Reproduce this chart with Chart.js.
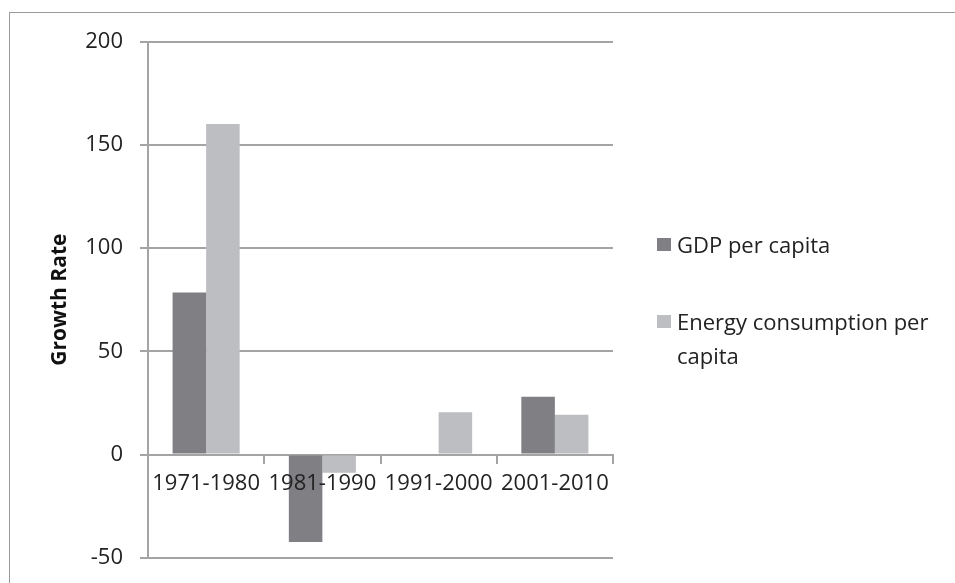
<!DOCTYPE html>
<html>
<head>
<meta charset="utf-8">
<script src="https://cdn.jsdelivr.net/npm/chart.js@4"></script>
<style>
  body { margin: 0; background: #fff; overflow: hidden; width: 955px; height: 583px; position: relative; }
  #frame { position: absolute; left: 9px; top: 12px; width: 1000px; height: 700px; border: 1.5px solid #9b9b9b; }
  #chartGrowth { position: absolute; left: 0; top: 0; }
  #legend { position: absolute; left: 657px; top: 0; font-family: "Open Sans", sans-serif; font-size: 22px; color: #222; }
  .item { position: absolute; left: 0; width: 290px; display: flex; align-items: flex-start; line-height: 34px; }
  .box { width: 14px; height: 13px; flex: none; margin-top: 11px; margin-right: 6px; }
</style>
</head>
<body>
<div id="frame"></div>
<!-- canvas a bit taller than the window: the plot runs almost to the bottom edge -->
<canvas id="chartGrowth" width="955" height="588"></canvas>
<div id="legend"></div>
<script>
const decades = ["1971-1980", "1981-1990", "1991-2000", "2001-2010"];
const gdpPerCapita = [78.5, -42.4, 0, 28];
const energyPerCapita = [160, -8.8, 20.5, 19.3];
const yTicks = [-50, 0, 50, 100, 150, 200];

const seriesNames = ["GDP per capita", "Energy consumption per capita"];
const seriesColors = ["#7f7f84", "#bdbec2"];
const gridColor = "#a4a4a4";

const canvasGrowth = document.getElementById("chartGrowth");

// chart with chart js
const chart = new Chart(canvasGrowth, {
    type: "bar",
    data: {
        labels: decades,
        datasets: [{
            label: seriesNames[0],
            data: gdpPerCapita,
            backgroundColor: seriesColors[0],
            categoryPercentage: 0.577,
            barPercentage: 1
        }, {
            label: seriesNames[1],
            data: energyPerCapita,
            backgroundColor: seriesColors[1],
            categoryPercentage: 0.577,
            barPercentage: 1
        }]
    },
    options: {
        responsive: false,
        animation: false,
        layout: { padding: { left: 0, right: 342, top: 41.5, bottom: 8.8 } },
        plugins: {
            legend: { display: false },
            tooltip: { enabled: false }
        },
        scales: {
            x: {
                position: { y: 0 },
                grid: { offset: true, drawOnChartArea: false, tickLength: 8, color: gridColor, lineWidth: 2 },
                border: { display: true, color: gridColor, width: 2 },
                // z: 1 -> labels go over the negative bars like in the original
                ticks: { z: 1, color: "#222", padding: 8, font: { family: "Open Sans", size: 22 } }
            },
            y: {
                min: -50,
                max: 200,
                afterBuildTicks: (scale) => { scale.ticks = yTicks.map(v => ({ value: v })); },
                afterFit: (scale) => { scale.width = 148; },
                grid: { color: gridColor, lineWidth: 2, tickLength: 8 },
                border: { display: true, color: gridColor, width: 2 },
                ticks: { color: "#222", padding: 17, font: { family: "Open Sans", size: 22 } },
                title: {
                    display: true,
                    text: "Growth Rate",
                    color: "#111",
                    padding: { top: 47, bottom: 0 },
                    font: { family: "Open Sans", size: 21, weight: "bold" }
                }
            }
        }
    }
});

// legend built from the datasets, the second label wraps like the original
const legendBox = document.getElementById("legend");
const legendTops = [227, 304];
chart.data.datasets.forEach((ds, i) => {
    let item = document.createElement("div");
    item.className = "item";
    item.style.top = legendTops[i] + "px";
    item.innerHTML = `<span class="box" style="background:${ds.backgroundColor}"></span><span>${ds.label}</span>`;
    legendBox.appendChild(item);
});
</script>
</body>
</html>
